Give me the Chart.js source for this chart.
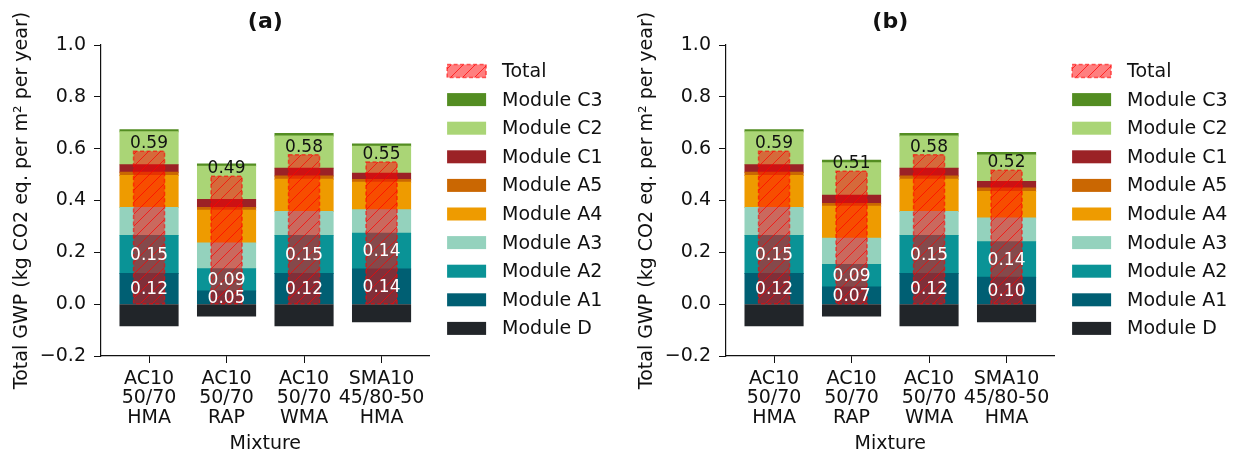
<!DOCTYPE html>
<html>
<head>
<meta charset="utf-8">
<script src="https://cdn.jsdelivr.net/npm/chart.js@4.4.1/dist/chart.umd.min.js"></script>
<style>
  html, body { margin: 0; padding: 0; background: #fff; }
  #wrap { position: relative; width: 1237px; height: 457px; }
  #chart-a { position: absolute; left: 0; top: 0; }
  #chart-b { position: absolute; left: 625px; top: 0; }
</style>
</head>
<body>
<div id="wrap">
  <canvas id="chart-a" width="625" height="457"></canvas>
  <canvas id="chart-b" width="612" height="457"></canvas>
</div>
<script>
// Categories and tick labels
const mixtures = [
  ['AC10', '50/70', 'HMA'],
  ['AC10', '50/70', 'RAP'],
  ['AC10', '50/70', 'WMA'],
  ['SMA10', '45/80-50', 'HMA'],
];
const yTicks = [-0.2, 0.0, 0.2, 0.4, 0.6, 0.8, 1.0];
const moduleNames = ['Module D', 'Module A1', 'Module A2', 'Module A3', 'Module A4',
  'Module A5', 'Module C1', 'Module C2', 'Module C3'];

// Panel (a) values, kg CO2 eq. per m2 per year
const a_D  = [-0.083, -0.046, -0.083, -0.068];
const a_A1 = [0.118, 0.051, 0.118, 0.136];
const a_A2 = [0.147, 0.086, 0.147, 0.138];
const a_A3 = [0.108, 0.099, 0.093, 0.090];
const a_A4 = [0.123, 0.126, 0.124, 0.106];
const a_A5 = [0.013, 0.011, 0.013, 0.011];
const a_C1 = [0.029, 0.031, 0.029, 0.024];
const a_C2 = [0.127, 0.128, 0.125, 0.104];
const a_C3 = [0.008, 0.009, 0.010, 0.009];
const a_total = [0.590, 0.494, 0.577, 0.549];

// Panel (b) values
const b_D  = [-0.083, -0.046, -0.083, -0.068];
const b_A1 = [0.118, 0.066, 0.118, 0.104];
const b_A2 = [0.147, 0.087, 0.147, 0.137];
const b_A3 = [0.108, 0.101, 0.093, 0.091];
const b_A4 = [0.123, 0.124, 0.124, 0.103];
const b_A5 = [0.013, 0.010, 0.013, 0.013];
const b_C1 = [0.029, 0.032, 0.029, 0.025];
const b_C2 = [0.127, 0.126, 0.125, 0.103];
const b_C3 = [0.008, 0.009, 0.010, 0.009];
const b_total = [0.590, 0.513, 0.577, 0.517];

const moduleColors = ['#212529', '#005f73', '#0a9396', '#94d2bd', '#ee9b00',
  '#ca6702', '#9b2226', '#aad576', '#538d22'];

const FONT = 'DejaVu Sans';
const INK = '#111';
Chart.defaults.font.family = FONT;

// hatched translucent red fill for the Total bars
function makeHatch() {
  const s = 12;
  const c = document.createElement('canvas');
  c.width = s; c.height = s;
  const g = c.getContext('2d');
  g.fillStyle = 'rgba(255,0,0,0.5)';
  g.fillRect(0, 0, s, s);
  g.strokeStyle = 'rgba(255,0,0,0.7)';
  g.lineWidth = 1;
  g.beginPath();
  g.moveTo(-2, s + 2); g.lineTo(s + 2, -2);
  g.moveTo(-s / 2 - 2, s / 2 + 2); g.lineTo(s / 2 + 2, -s / 2 - 2);
  g.moveTo(s / 2 - 2, s * 1.5 + 2); g.lineTo(s * 1.5 + 2, s / 2 - 2);
  g.stroke();
  return g.createPattern(c, 'repeat');
}
const hatch = makeHatch();

function fmtTick(v) {
  const r = Math.round(v * 10) / 10;
  return (r < 0 ? '\u2212' : '') + Math.abs(r).toFixed(1);
}

function makeChart(canvasId, title, series, totals) {
  const xs = mixtures.map((_, i) => i);
  const datasets = series.map((vals, k) => ({
    label: moduleNames[k],
    data: vals.map((v, i) => ({ x: xs[i], y: v })),
    backgroundColor: moduleColors[k],
    borderWidth: 0,
    inflateAmount: 0.5,
    stack: 'modules',
    grouped: false,
    barPercentage: 0.75,
    categoryPercentage: 1,
  }));
  datasets.push({
    label: 'Total',
    data: totals.map((v, i) => ({ x: xs[i], y: v })),
    backgroundColor: hatch,
    borderWidth: 0,
    inflateAmount: 0,
    stack: 'total',
    grouped: false,
    barPercentage: 0.4,
    categoryPercentage: 1,
    order: -1,
  });
  const totalIndex = datasets.length - 1;

  const overlay = {
    id: 'overlay',
    afterDatasetsDraw(chart) {
      const ctx = chart.ctx;
      ctx.save();
      // dashed outline of the Total bars
      const tMeta = chart.getDatasetMeta(totalIndex);
      ctx.setLineDash([4, 2.5]);
      ctx.strokeStyle = 'rgba(255,0,0,0.6)';
      ctx.lineWidth = 1.5;
      tMeta.data.forEach(el => {
        const p = el.getProps(['x', 'y', 'base', 'width'], true);
        ctx.strokeRect(p.x - p.width / 2, p.y, p.width, p.base - p.y);
      });
      ctx.setLineDash([]);
      // values of modules A1 and A2 inside the bars
      ctx.font = '17px ' + FONT;
      ctx.textAlign = 'center';
      ctx.textBaseline = 'middle';
      ctx.fillStyle = '#fff';
      [1, 2].forEach(k => {
        chart.getDatasetMeta(k).data.forEach((el, i) => {
          const p = el.getProps(['x', 'y', 'base'], true);
          ctx.fillText(series[k][i].toFixed(2), p.x, (p.y + p.base) / 2 + 1);
        });
      });
      // totals above the hatched bars
      ctx.fillStyle = INK;
      ctx.textBaseline = 'alphabetic';
      tMeta.data.forEach((el, i) => {
        const p = el.getProps(['x', 'y'], true);
        ctx.fillText(totals[i].toFixed(2), p.x, p.y - 3);
      });
      ctx.restore();
    },
    afterDraw(chart) {
      const ctx = chart.ctx;
      const area = chart.chartArea;
      ctx.save();
      // panel title
      ctx.font = 'bold 22px ' + FONT;
      ctx.fillStyle = INK;
      ctx.textAlign = 'center';
      ctx.textBaseline = 'middle';
      ctx.fillText(title, (area.left + area.right) / 2, 22);
      // legend, Total first then modules from top of the stack down
      const items = [{ label: 'Total', fill: hatch, total: true }];
      for (let k = moduleNames.length - 1; k >= 0; k--) {
        items.push({ label: moduleNames[k], fill: moduleColors[k] });
      }
      const lx = area.right + 17.5;
      ctx.font = '19px ' + FONT;
      ctx.textAlign = 'left';
      items.forEach((it, i) => {
        const cy = area.top + 26 + i * 28.6;
        ctx.fillStyle = it.fill;
        ctx.fillRect(lx, cy - 6.5, 39, 13);
        if (it.total) {
          ctx.setLineDash([4, 2.5]);
          ctx.strokeStyle = 'rgba(255,0,0,0.6)';
          ctx.lineWidth = 1.5;
          ctx.strokeRect(lx, cy - 6.5, 39, 13);
          ctx.setLineDash([]);
        }
        ctx.fillStyle = INK;
        ctx.fillText(it.label, lx + 55, cy + 1);
      });
      ctx.restore();
    },
  };

  const canvas = document.getElementById(canvasId);
  return new Chart(canvas, {
    type: 'bar',
    data: { datasets },
    options: {
      responsive: false,
      animation: false,
      layout: { padding: { top: 45, right: canvas.width - 429.6, left: 0, bottom: 0 } },
      plugins: { legend: { display: false }, tooltip: { enabled: false } },
      scales: {
        x: {
          type: 'linear',
          min: -0.62,
          max: 3.62,
          offset: false,
          afterBuildTicks: s => { s.ticks = xs.map(v => ({ value: v })); },
          afterFit: s => { s.height = 101; },
          ticks: {
            autoSkip: false,
            maxRotation: 0,
            padding: 6,
            color: INK,
            font: { size: 19, lineHeight: 1.03 },
            callback: (v, i) => mixtures[i],
          },
          grid: { drawOnChartArea: false, offset: false, tickLength: 7, color: INK },
          border: { color: INK, width: 1.2 },
          title: { display: true, text: 'Mixture', color: INK, font: { size: 19 }, padding: { top: 0, bottom: 2 } },
        },
        y: {
          stacked: true,
          min: -0.2,
          max: 1.0,
          afterBuildTicks: s => { s.ticks = yTicks.map(v => ({ value: v })); },
          afterFit: s => { s.width = 101; },
          ticks: { padding: 8, color: INK, font: { size: 19 }, callback: v => fmtTick(v) },
          grid: { drawOnChartArea: false, tickLength: 7, color: INK },
          border: { color: INK, width: 1.2 },
          title: {
            display: true,
            text: 'Total GWP (kg CO2 eq. per m\u00b2 per year)',
            color: INK,
            font: { size: 19 },
            padding: { top: 11, bottom: 0 },
          },
        },
      },
    },
    plugins: [overlay],
  });
}

makeChart('chart-a', '(a)', [a_D, a_A1, a_A2, a_A3, a_A4, a_A5, a_C1, a_C2, a_C3], a_total);
makeChart('chart-b', '(b)', [b_D, b_A1, b_A2, b_A3, b_A4, b_A5, b_C1, b_C2, b_C3], b_total);
</script>
</body>
</html>
